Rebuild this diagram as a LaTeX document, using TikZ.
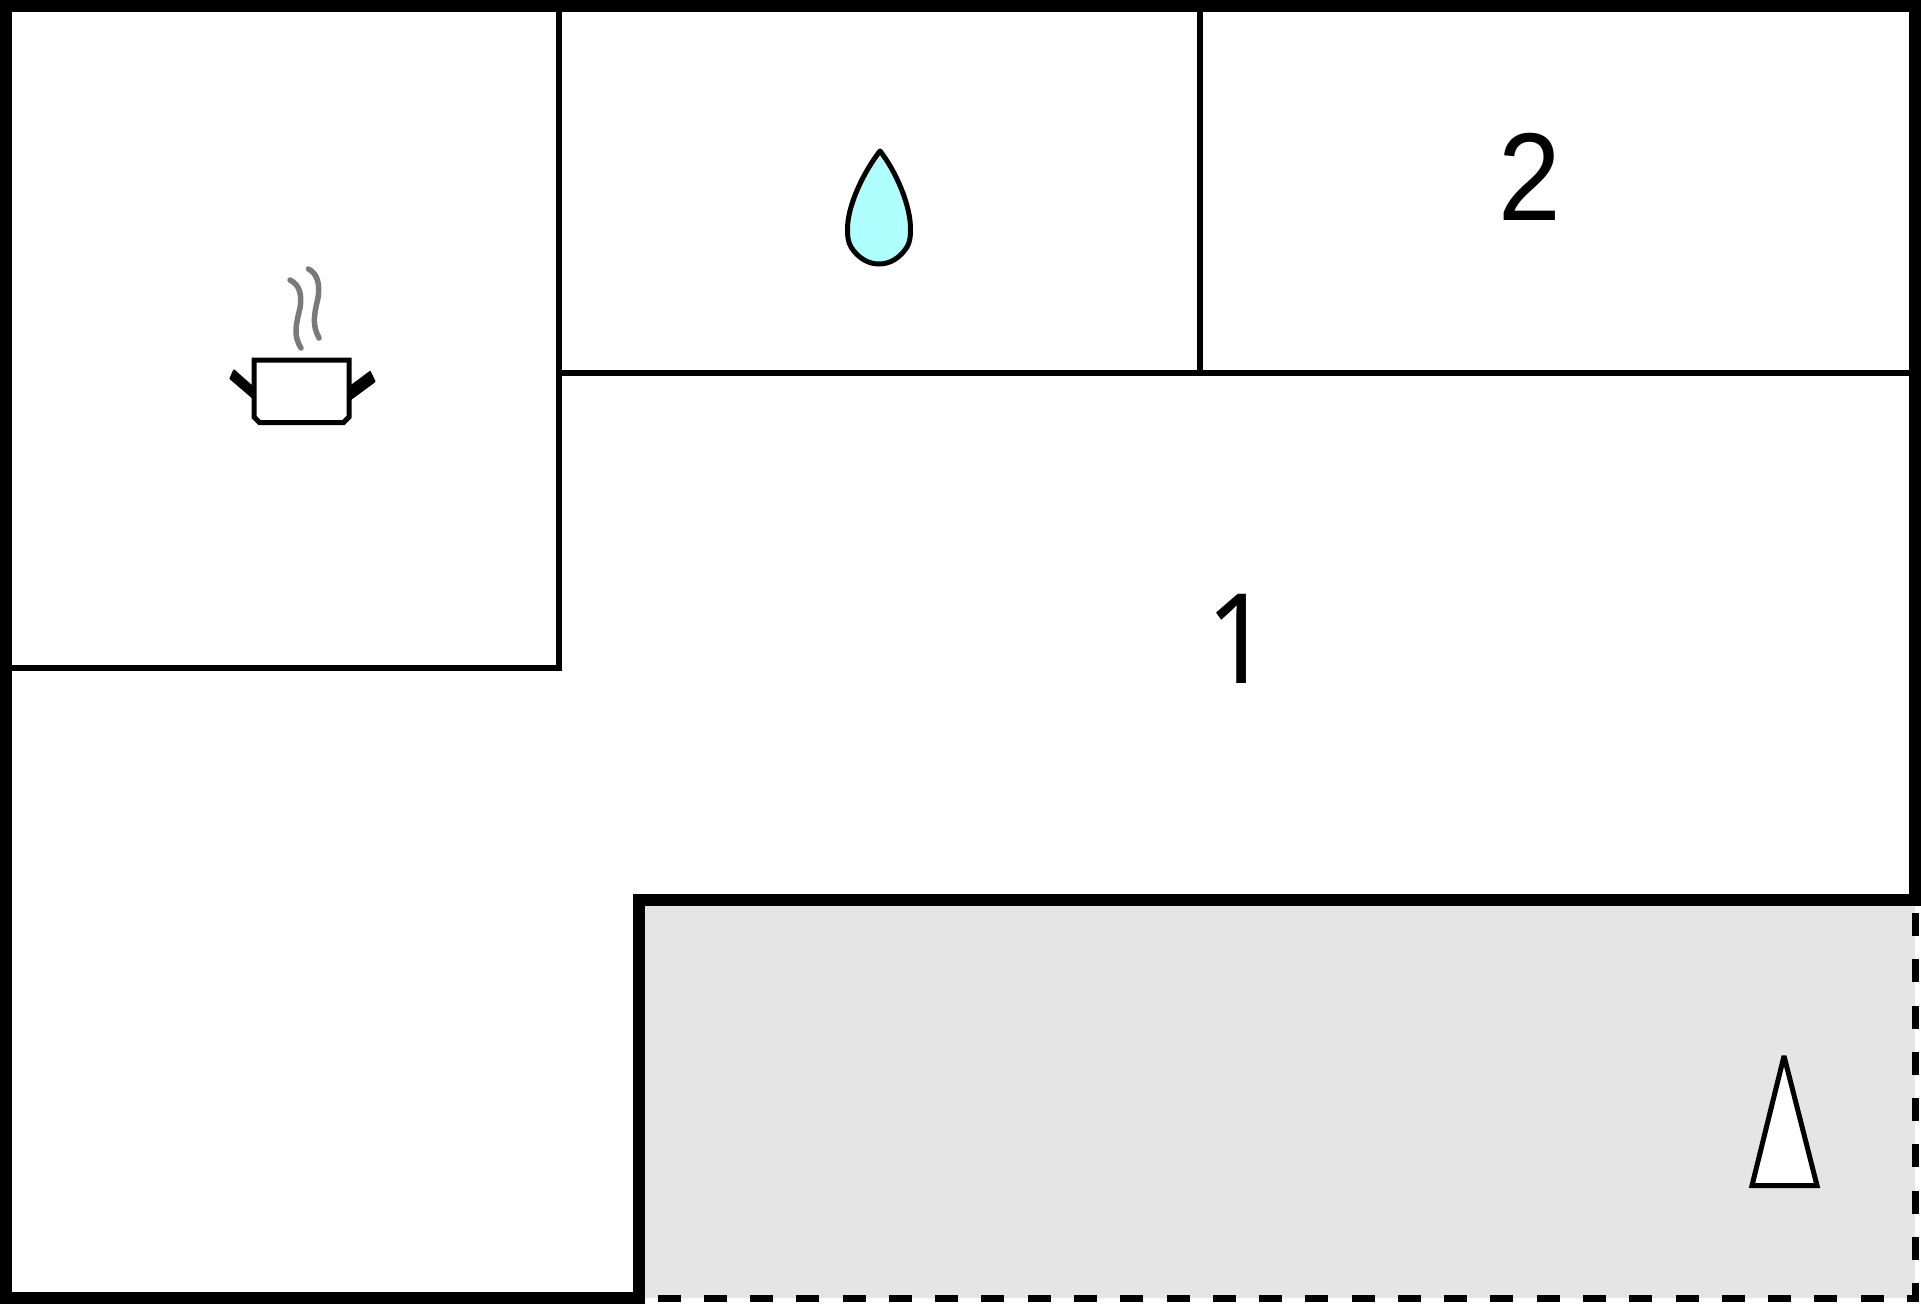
\documentclass[tikz,border=0pt]{standalone}
\usepackage{fontspec}
\setmainfont{Liberation Sans}
\newfontfamily\onefont{Noto Sans}
\definecolor{yardgray}{HTML}{E5E5E5}
\definecolor{dropfill}{HTML}{AFFFFF}
\definecolor{steamgray}{HTML}{7A7A7A}
\tikzset{
  outerwall/.style={draw=black,line width=12pt,miter limit=10},
  innerwall/.style={draw=black,line width=6pt,line cap=butt},
  opendash/.style={draw=black,line width=7pt,dash pattern=on 23pt off 23.27pt},
  iconline/.style={draw=black,line width=5pt},
  handle/.style={fill=black,draw=black,line width=2pt,line join=round},
  steam/.style={draw=steamgray,line width=5.5pt,line cap=round},
  numlabel/.style={anchor=base,inner sep=0pt,xscale=.9,transform shape}
}
\begin{document}
\begin{tikzpicture}[x=1pt,y=-1pt]
\useasboundingbox (0,0) rectangle (1921,1304);
\fill[white] (0,0) rectangle (1921,1304);
% covered area
\fill[yardgray] (645,906) rectangle (1915,1297.5);
\draw[opendash] (1915,913) -- (1915,1298) -- (657.3,1298);
% inner walls
\draw[innerwall] (558.5,12) -- (558.5,668) -- (12,668);
\draw[innerwall] (1200,12) -- (1200,373);
\draw[innerwall] (558,373) -- (1909,373);
% outer walls
\draw[outerwall] (6,6) -- (1915,6) -- (1915,900) -- (639,900) -- (639,1298) -- (6,1298) -- cycle;
% labels
\node[numlabel,font=\onefont\fontsize{125}{125}\selectfont] (room1) at (1239,683.3) {1};
\node[numlabel,font=\fontsize{125}{125}\selectfont] (room2) at (1530,220) {2};
% pot
\draw[handle] (230.5,378.5) -- (234,370.5) -- (256,390) -- (255,399.5) -- cycle;
\draw[handle] (348.5,388) -- (370,372) -- (374.5,381.5) -- (350,399.5) -- cycle;
\filldraw[iconline,fill=white] (254,360) -- (349,360) -- (349,417) -- (343.5,422.5) -- (259.5,422.5) -- (254,417) -- cycle;
\draw[steam] (290,280) .. controls (300,285) and (302,295) .. (300,308) .. controls (296,325) and (293,335) .. (301,348);
\draw[steam] (308.5,269) .. controls (318,274) and (320,285) .. (318,298) .. controls (314,315) and (312,325) .. (319,338);
% drop
\filldraw[iconline,fill=dropfill,line join=round] (880,151) .. controls (865,170) and (847,205) .. (847.5,230) .. controls (847.5,236) and (848,242) .. (851,247) .. controls (858,258) and (868,264) .. (879,264) .. controls (890,264) and (900,258) .. (907,247) .. controls (910,242) and (910.5,236) .. (910.5,230) .. controls (911,205) and (895,170) .. (880,151) -- cycle;
% cone
\filldraw[iconline,fill=white,miter limit=3] (1784,1056) -- (1817,1185.5) -- (1752,1185.5) -- cycle;
\end{tikzpicture}
\end{document}
